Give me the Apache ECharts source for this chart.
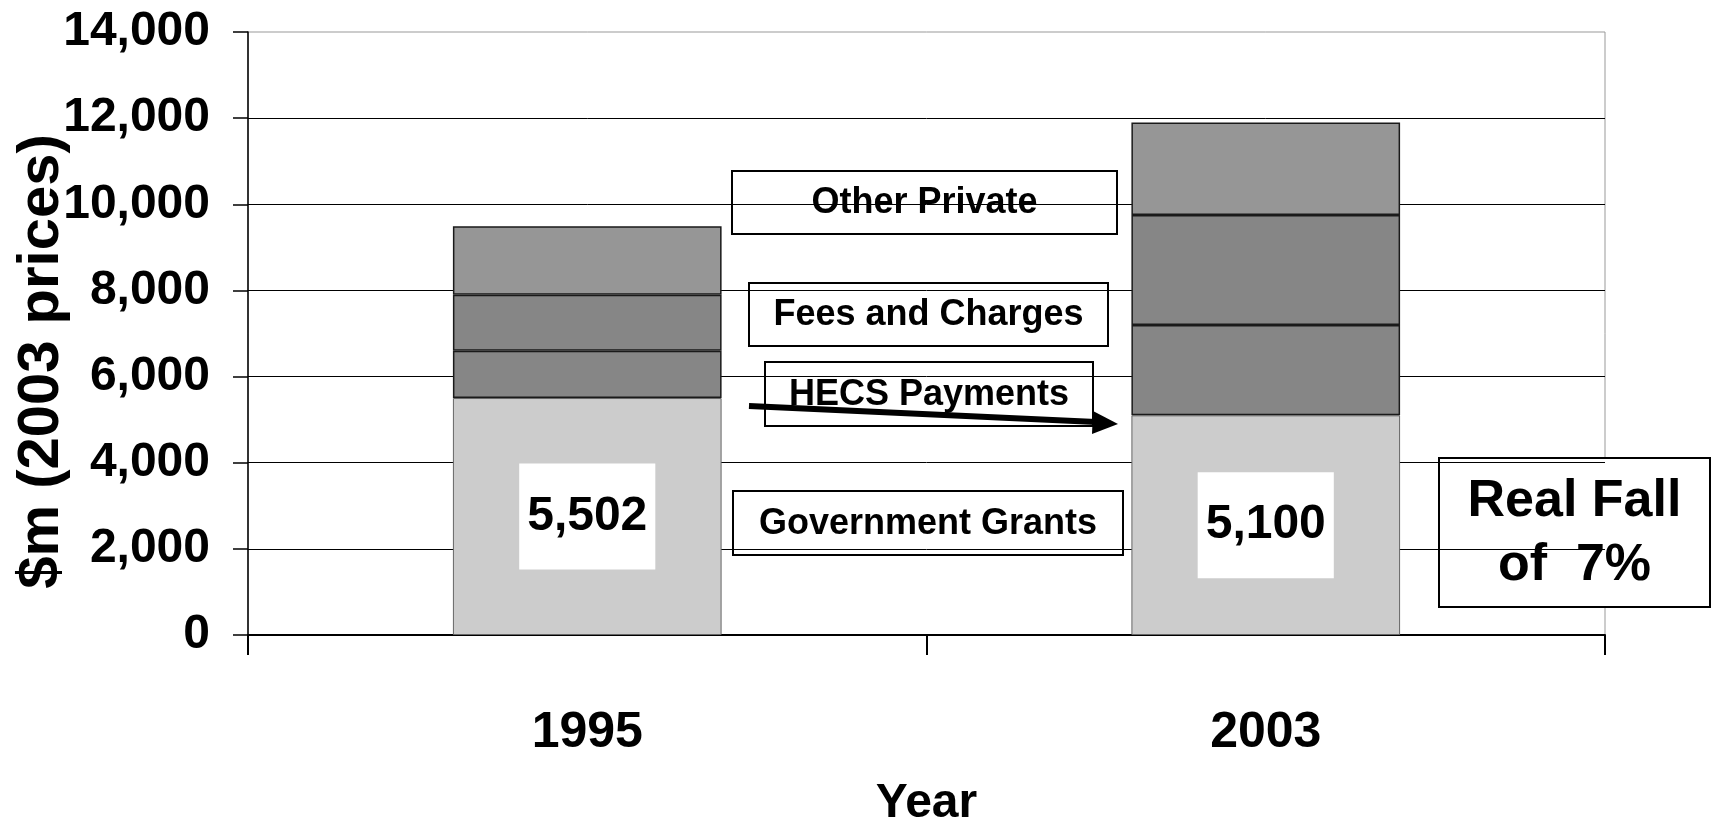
<!DOCTYPE html>
<html>
<head>
<meta charset="utf-8">
<title>Funding 1995 vs 2003</title>
<script src="https://cdn.jsdelivr.net/npm/echarts@6.0.0/dist/echarts.min.js"></script>
<style>
	html, body { margin: 0; padding: 0; background: #fff; }
	#main { width: 1714px; height: 823px; }
</style>
</head>
<body>
<div id="main"></div>
<script>
// data ($m, 2003 prices)
var years = ['1995', '2003'];
var govGrants = [5502, 5100];
var hecsPayments = [1100, 2100];
var feesCharges = [1300, 2550];
var otherPrivate = [1590, 2150];
var yMin = 0, yMax = 14000, yStep = 2000;

// no narrow font in the sandbox, so plain bold at a smaller size
var sans = "'Liberation Sans', Arial, sans-serif";

// white box with a black frame and centered text
function box(label, x, y, w, h, size) {
	return {
		type : 'group',
		x : x,
		y : y,
		z : 100,
		children : [ {
			type : 'rect',
			shape : { x : 0, y : 0, width : w, height : h },
			style : { fill : '#fff', stroke : '#000', lineWidth : 2 }
		}, {
			type : 'text',
			x : w / 2,
			y : h / 2 + 1,
			style : {
				text : label,
				fontSize : size,
				fontWeight : 'bold',
				fontFamily : sans,
				lineHeight : 64,
				fill : '#000',
				align : 'center',
				verticalAlign : 'middle'
			}
		} ]
	};
}

function segment(name, values, color, border, borderWidth) {
	return {
		name : name,
		type : 'bar',
		stack : 'total',
		barWidth : '39.6%',
		data : values,
		itemStyle : {
			color : color,
			borderColor : border,
			borderWidth : borderWidth
		}
	};
}

var myChart = echarts.init(document.getElementById('main'));

var govSeries = segment('Government Grants', govGrants, '#cccccc', '#666', 1);
govSeries.label = {
	show : true,
	position : 'inside',
	fontSize : 48,
	fontWeight : 'bold',
	fontFamily : sans,
	color : '#000',
	lineHeight : 58,
	backgroundColor : '#fff',
	padding : [ 24, 8 ],
	formatter : function(p) {
		return p.value.toLocaleString('en-US');
	}
};

option = {
	backgroundColor : '#fff',
	animation : false,
	grid : {
		left : 248,
		right : 109,
		top : 32,
		bottom : 188,
		containLabel : false,
		outerBoundsMode : 'none',
		show : true,
		borderColor : '#999',
		borderWidth : 1
	},
	xAxis : {
		type : 'category',
		data : years,
		name : 'Year',
		nameLocation : 'middle',
		nameGap : 145,
		nameMoveOverlap : false,
		nameTextStyle : {
			fontSize : 48,
			fontWeight : 'bold',
			fontFamily : sans,
			color : '#000'
		},
		axisLine : { lineStyle : { color : '#000', width : 2 } },
		axisTick : { show : true, length : 20, lineStyle : { color : '#000', width : 2 } },
		axisLabel : {
			margin : 73,
			fontSize : 50,
			fontWeight : 'bold',
			fontFamily : sans,
			color : '#000'
		}
	},
	yAxis : {
		type : 'value',
		min : yMin,
		max : yMax,
		interval : yStep,
		name : '$m (2003 prices)',
		nameLocation : 'middle',
		nameGap : 177,
		nameMoveOverlap : false,
		nameTextStyle : {
			fontSize : 58,
			fontWeight : 'bold',
			fontFamily : sans,
			color : '#000',
			padding : [ 0, 56, 0, 0 ]
		},
		axisLine : { show : true, lineStyle : { color : '#000', width : 1.5 } },
		axisTick : { show : true, length : 15, lineStyle : { color : '#000', width : 1.5 } },
		splitLine : { show : true, showMaxLine : false, lineStyle : { color : '#000', width : 1 } },
		axisLabel : {
			margin : 38,
			fontSize : 48,
			fontWeight : 'bold',
			fontFamily : sans,
			color : '#000',
			formatter : function(v) {
				return v.toLocaleString('en-US');
			}
		}
	},
	series : [
		govSeries,
		segment('HECS Payments', hecsPayments, '#868686', '#1a1a1a', 1.5),
		segment('Fees and Charges', feesCharges, '#868686', '#1a1a1a', 1.5),
		segment('Other Private', otherPrivate, '#969696', '#1a1a1a', 1.5)
	],
	graphic : [
		box('Other Private', 732, 171, 385, 63, 36),
		box('Fees and Charges', 749, 283, 359, 63, 36),
		box('HECS Payments', 765, 362, 328, 64, 36),
		box('Government Grants', 733, 491, 390, 64, 36),
		box('Real Fall\nof  7%', 1439, 458, 271, 149, 52),
		{
			type : 'line',
			z : 110,
			shape : { x1 : 749, y1 : 406, x2 : 1096, y2 : 422 },
			style : { stroke : '#000', lineWidth : 6 }
		},
		{
			type : 'polygon',
			z : 110,
			shape : { points : [ [ 1118, 424 ], [ 1093, 411 ], [ 1092, 434 ] ] },
			style : { fill : '#000' }
		}
	]
};
myChart.setOption(option);
</script>
</body>
</html>
